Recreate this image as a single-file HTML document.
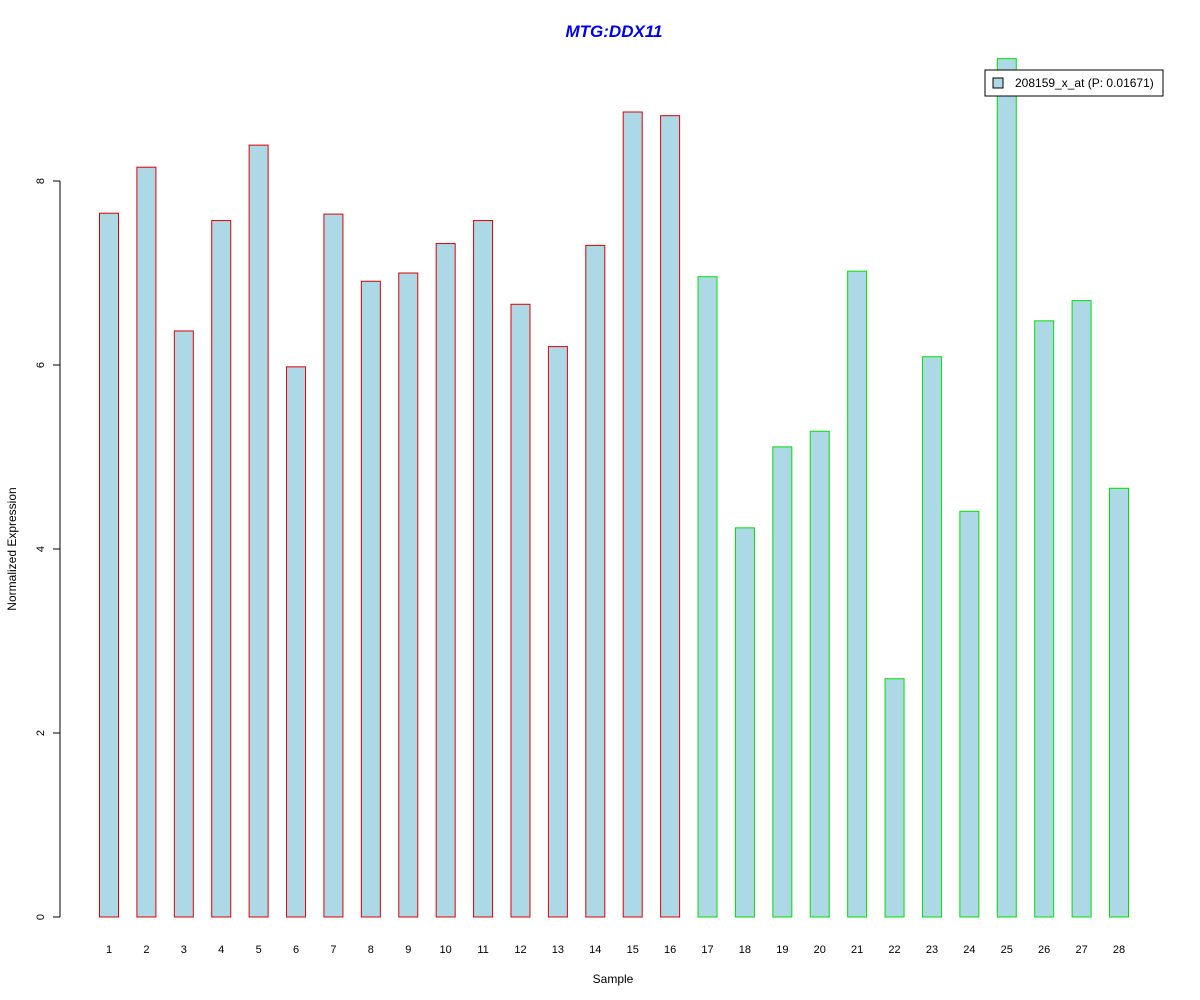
<!DOCTYPE html>
<html><head><meta charset="utf-8"><style>body{margin:0;background:#fff}svg{display:block;font-family:"Liberation Sans",sans-serif}</style></head>
<body>
<svg width="1200" height="1000" viewBox="0 0 1200 1000">
<text x="614" y="37" text-anchor="middle" font-size="17" font-weight="bold" font-style="italic" fill="#0000ee">MTG:DDX11</text>
<g id="yaxis"></g>
<g id="bars"></g>
<g id="xlabels"></g>
<text x="613" y="983" text-anchor="middle" font-size="12">Sample</text>
<text transform="translate(16,549) rotate(-90)" text-anchor="middle" font-size="12">Normalized Expression</text>
<g>
<rect x="985" y="70" width="178" height="26" fill="#fff" stroke="#000"/>
<rect x="993" y="78" width="10" height="10" fill="#add8e6" stroke="#000"/>
<text x="1015" y="87" font-size="12">208159_x_at (P: 0.01671)</text>
</g>
<script>
const samples=[1,2,3,4,5,6,7,8,9,10,11,12,13,14,15,16,17,18,19,20,21,22,23,24,25,26,27,28];
const values=[7.65,8.15,6.37,7.57,8.39,5.98,7.64,6.91,7.0,7.32,7.57,6.66,6.2,7.3,8.75,8.71,6.96,4.23,5.11,5.28,7.02,2.59,6.09,4.41,9.33,6.48,6.7,4.66];
const groups=["a","a","a","a","a","a","a","a","a","a","a","a","a","a","a","a","b","b","b","b","b","b","b","b","b","b","b","b"];
const yTicks=[0,2,4,6,8];
const NS="http://www.w3.org/2000/svg";
const y=v=>917-v*92;
const x=i=>109+i*(1119-109)/27;
function mk(t,a,p){const e=document.createElementNS(NS,t);for(const k in a)e.setAttribute(k,a[k]);p.appendChild(e);return e;}
const ya=document.getElementById('yaxis');
const ln=mk('line',{x1:60,x2:60,y1:y(8),y2:y(0),stroke:'#000'},ya);


yTicks.forEach(t=>{
 const tk=mk('line',{x1:53,x2:60,y1:y(t),y2:y(t),stroke:'#000'},ya);
 
 
 const tx=mk('text',{transform:`translate(44,${y(t)}) rotate(-90)`,'text-anchor':'middle','font-size':11},ya);
 
 
 tx.textContent=t;
});
const bg=document.getElementById('bars'),xl=document.getElementById('xlabels');
values.forEach((v,i)=>{
 const r=mk('rect',{x:x(i)-9.5,y:y(v),width:19,height:y(0)-y(v),fill:'#add8e6',stroke:groups[i]==='a'?'#e00000':'#00e000'},bg);
 
 
 const t=mk('text',{x:x(i),y:953,'text-anchor':'middle','font-size':11},xl);
 
 
 t.textContent=samples[i];
});
</script>
</svg>
</body></html>
